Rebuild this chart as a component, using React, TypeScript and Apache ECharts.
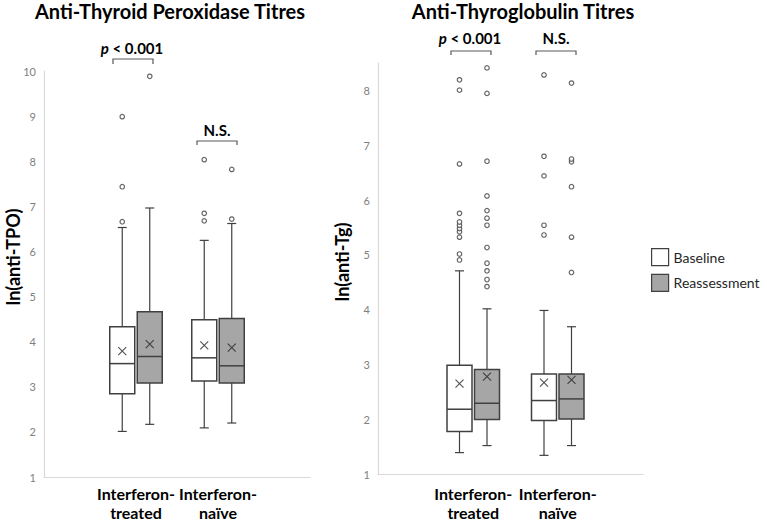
import React, { useEffect, useRef } from "react";
import * as echarts from "echarts";

// ---------- data ----------
const categories = ["Interferon-\ntreated", "Interferon-\nnaïve"];
const seriesNames = ["Baseline", "Reassessment"];

// [min, Q1, median, Q3, max] per category
const tpoBaselineBox = [
  [1.87, 2.72, 3.4, 4.23, 6.47],
  [1.95, 3.01, 3.53, 4.39, 6.18],
];
const tpoReassessBox = [
  [2.03, 2.96, 3.56, 4.57, 6.91],
  [2.06, 2.96, 3.35, 4.42, 6.56],
];
const tpoBaselineMean = [3.68, 3.81];
const tpoReassessMean = [3.84, 3.76];
const tpoBaselineOutliers = [
  [6.6, 7.39, 8.97],
  [6.62, 6.79, 8.0],
];
const tpoReassessOutliers = [[9.88], [6.66, 7.78]];

const tgBaselineBox = [
  [1.32, 1.71, 2.12, 2.93, 4.67],
  [1.27, 1.91, 2.28, 2.77, 3.94],
];
const tgReassessBox = [
  [1.45, 1.93, 2.23, 2.85, 3.97],
  [1.45, 1.94, 2.31, 2.77, 3.64],
];
const tgBaselineMean = [2.59, 2.61];
const tgReassessMean = [2.72, 2.66];
const tgBaselineOutliers = [
  [4.87, 4.98, 5.29, 5.39, 5.45, 5.51, 5.57, 5.73, 6.64, 8.0, 8.19],
  [5.33, 5.51, 6.42, 6.78, 8.28],
];
const tgReassessOutliers = [
  [4.38, 4.51, 4.67, 4.81, 5.1, 5.51, 5.64, 5.78, 6.05, 6.69, 7.94, 8.41],
  [4.64, 5.29, 6.22, 6.68, 6.73, 8.13],
];

const tpoAxis = { min: 1, max: 10, interval: 1 };
const tgAxis = { min: 1, max: 8.5, interval: 1 };

// ---------- styles ----------
const FONT = "Lato, 'Noto Sans', sans-serif";
const DARK = "#404040";
const AXIS_GRAY = "#d9d9d9";
const FILLS = ["#ffffff", "#a6a6a6"];
const BOX_W = 25;
const CAP_W = 9;
const OFFSETS = [-13.75, 13.75];

function boxSeries(name: string, boxes: number[][], fill: string, offset: number, axisIdx: number) {
  return {
    type: "custom",
    name,
    xAxisIndex: axisIdx,
    yAxisIndex: axisIdx,
    data: boxes.map((b, i) => [i, ...b]),
    encode: { x: 0, y: [1, 2, 3, 4, 5] },
    z: 2,
    renderItem: (params: any, api: any) => {
      const cat = api.value(0);
      const p = (v: number) => api.coord([cat, v]);
      const cx = p(api.value(3))[0] + offset;
      const yMin = p(api.value(1))[1];
      const yQ1 = p(api.value(2))[1];
      const yMed = p(api.value(3))[1];
      const yQ3 = p(api.value(4))[1];
      const yMax = p(api.value(5))[1];
      const ls = { stroke: DARK, lineWidth: 1.2 };
      return {
        type: "group",
        children: [
          { type: "line", shape: { x1: cx, y1: yMin, x2: cx, y2: yQ1 }, style: ls },
          { type: "line", shape: { x1: cx, y1: yQ3, x2: cx, y2: yMax }, style: ls },
          { type: "line", shape: { x1: cx - CAP_W / 2, y1: yMin, x2: cx + CAP_W / 2, y2: yMin }, style: ls },
          { type: "line", shape: { x1: cx - CAP_W / 2, y1: yMax, x2: cx + CAP_W / 2, y2: yMax }, style: ls },
          {
            type: "rect",
            shape: { x: cx - BOX_W / 2, y: yQ3, width: BOX_W, height: yQ1 - yQ3 },
            style: { fill, stroke: DARK, lineWidth: 1.5 },
          },
          { type: "line", shape: { x1: cx - BOX_W / 2, y1: yMed, x2: cx + BOX_W / 2, y2: yMed }, style: { stroke: DARK, lineWidth: 1.5 } },
        ],
      };
    },
  };
}

function meanSeries(name: string, means: number[], offset: number, axisIdx: number) {
  return {
    type: "scatter",
    name,
    xAxisIndex: axisIdx,
    yAxisIndex: axisIdx,
    data: means.map((m, i) => [i, m]),
    symbol: "path://M0,0L10,10M10,0L0,10",
    symbolSize: 8,
    symbolOffset: [offset, 0],
    itemStyle: { color: "transparent", borderColor: "#262626", borderWidth: 1.1 },
    z: 4,
  };
}

function outlierSeries(name: string, outs: number[][], offset: number, axisIdx: number) {
  const data: number[][] = [];
  outs.forEach((arr, i) => arr.forEach((v) => data.push([i, v])));
  return {
    type: "scatter",
    name,
    xAxisIndex: axisIdx,
    yAxisIndex: axisIdx,
    data,
    symbol: "circle",
    symbolSize: 4.5,
    symbolOffset: [offset, 0],
    itemStyle: { color: "#ffffff", borderColor: DARK, borderWidth: 1.2 },
    z: 4,
  };
}

function bracket(x1: number, x2: number, yTop: number, yLeg: number) {
  return {
    type: "polyline",
    shape: { points: [[x1, yLeg], [x1, yTop], [x2, yTop], [x2, yLeg]] },
    style: { stroke: "#595959", lineWidth: 1.2, fill: "none" },
  };
}

function label(text: string, x: number, y: number, rich = false) {
  return {
    type: "text",
    x,
    y,
    style: {
      text,
      fontFamily: FONT,
      fontSize: 15,
      fontWeight: "bold",
      fill: "#000",
      textAlign: "center",
      textVerticalAlign: "middle",
      rich: rich ? { i: { fontStyle: "italic", fontWeight: "bold", fontSize: 15, fontFamily: FONT } } : undefined,
    },
  };
}

export default function App() {
  const ref = useRef<HTMLDivElement>(null);
  useEffect(() => {
    document.body.style.margin = "0";
    const chart = echarts.init(ref.current!, null, { renderer: "svg" });

    const frameGrids = [
      { left: 44, top: 71, width: 266, height: 406 },
      { left: 378, top: 63, width: 265, height: 411 },
    ];
    const dataGrids = [
      { left: 95, top: 71, width: 164, height: 406 },
      { left: 431, top: 63, width: 169, height: 411 },
    ];
    const axes = [tpoAxis, tgAxis];

    const grid = [...frameGrids, ...dataGrids];
    const xAxis: any[] = [];
    const yAxis: any[] = [];
    [0, 1].forEach((k) => {
      xAxis.push({
        type: "category",
        gridIndex: k,
        data: [""],
        axisLine: { show: true, lineStyle: { color: AXIS_GRAY, width: 1.2 } },
        axisTick: { show: false },
        axisLabel: { show: false },
      });
      yAxis.push({
        type: "value",
        gridIndex: k,
        min: axes[k].min,
        max: axes[k].max,
        interval: axes[k].interval,
        axisLine: { show: true, lineStyle: { color: AXIS_GRAY, width: 1.2 } },
        axisTick: { show: false },
        splitLine: { show: false },
        axisLabel: {
          color: "#808080",
          fontFamily: FONT,
          fontSize: 11,
          margin: 8,
          showMaxLabel: k === 0,
        },
      });
    });
    [0, 1].forEach((k) => {
      xAxis.push({
        type: "category",
        gridIndex: 2 + k,
        data: categories,
        axisLine: { show: false },
        axisTick: { show: false },
        axisLabel: {
          interval: 0,
          color: "#000",
          fontFamily: FONT,
          fontWeight: "bold",
          fontSize: 16,
          lineHeight: 19,
          margin: 14,
        },
      });
      yAxis.push({
        type: "value",
        gridIndex: 2 + k,
        min: axes[k].min,
        max: axes[k].max,
        interval: axes[k].interval,
        show: false,
      });
    });

    const series: any[] = [
      boxSeries(seriesNames[0], tpoBaselineBox, FILLS[0], OFFSETS[0], 2),
      boxSeries(seriesNames[1], tpoReassessBox, FILLS[1], OFFSETS[1], 2),
      meanSeries("Baseline mean (TPO)", tpoBaselineMean, OFFSETS[0], 2),
      meanSeries("Reassessment mean (TPO)", tpoReassessMean, OFFSETS[1], 2),
      outlierSeries("Baseline outliers (TPO)", tpoBaselineOutliers, OFFSETS[0], 2),
      outlierSeries("Reassessment outliers (TPO)", tpoReassessOutliers, OFFSETS[1], 2),
      boxSeries(seriesNames[0], tgBaselineBox, FILLS[0], OFFSETS[0], 3),
      boxSeries(seriesNames[1], tgReassessBox, FILLS[1], OFFSETS[1], 3),
      meanSeries("Baseline mean (Tg)", tgBaselineMean, OFFSETS[0], 3),
      meanSeries("Reassessment mean (Tg)", tgReassessMean, OFFSETS[1], 3),
      outlierSeries("Baseline outliers (Tg)", tgBaselineOutliers, OFFSETS[0], 3),
      outlierSeries("Reassessment outliers (Tg)", tgReassessOutliers, OFFSETS[1], 3),
    ];

    const titleStyle = (text: string) => ({
      text,
      fontFamily: FONT,
      fontSize: 20,
      fontWeight: "bold",
      fill: "#000",
      textAlign: "center",
      textVerticalAlign: "middle",
    });

    chart.setOption({
      animation: false,
      backgroundColor: "#ffffff",
      grid,
      xAxis,
      yAxis,
      series,
      legend: {
        orient: "vertical",
        left: 646,
        top: 243,
        itemWidth: 17,
        itemHeight: 17,
        itemGap: 7.5,
        selectedMode: false,
        textStyle: { fontFamily: FONT, fontSize: 14, color: "#262626" },
        data: [
          { name: seriesNames[0], icon: "rect", itemStyle: { color: FILLS[0], borderColor: DARK, borderWidth: 1.2 } },
          { name: seriesNames[1], icon: "rect", itemStyle: { color: FILLS[1], borderColor: DARK, borderWidth: 1.2 } },
        ],
      },
      graphic: [
        { type: "text", x: 170, y: 11, style: titleStyle("Anti-Thyroid Peroxidase Titres") },
        { type: "text", x: 523, y: 11, style: titleStyle("Anti-Thyroglobulin Titres") },
        {
          type: "text",
          x: 13,
          y: 257,
          rotation: Math.PI / 2,
          style: { ...titleStyle("ln(anti-TPO)"), fontSize: 18 },
        },
        {
          type: "text",
          x: 342,
          y: 262,
          rotation: Math.PI / 2,
          style: { ...titleStyle("ln(anti-Tg)"), fontSize: 18 },
        },
        label("{i|p} < 0.001", 132, 48, true),
        bracket(113, 153, 59, 64),
        label("N.S.", 217, 130),
        bracket(197, 237, 141, 145),
        label("{i|p} < 0.001", 470, 38, true),
        bracket(451, 491, 51, 55),
        label("N.S.", 556, 38),
        bracket(536, 576, 51, 55),
      ],
    });
    return () => chart.dispose();
  }, []);
  return <div ref={ref} style={{ width: 767, height: 522 }} />;
}
